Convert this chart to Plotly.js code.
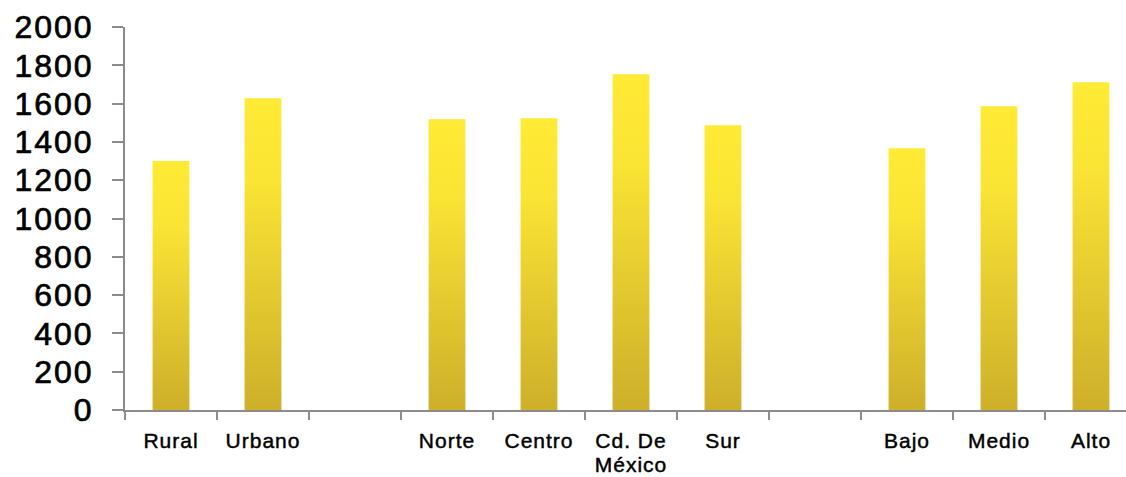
<!DOCTYPE html>
<html>
<head>
<meta charset="utf-8">
<script src="https://cdn.plot.ly/plotly-3.0.1.min.js"></script>
<style>
  html, body { margin: 0; padding: 0; background: #fff; overflow: hidden; }
  #chart { width: 1140px; height: 477px; }
  /* heavier, slightly wider tick lettering */
  #chart .ytick text { stroke: #000; stroke-width: 0.7px; letter-spacing: 2px; }
  #chart .xtick text { stroke: #000; stroke-width: 0.45px; letter-spacing: 1px; }
</style>
</head>
<body>
<div id="chart"></div>
<script>
// Categories along the x axis; the blank entries leave gaps between groups
const categories = ['Rural', 'Urbano', ' ', 'Norte', 'Centro', 'Cd. De<br>México', 'Sur', '  ', 'Bajo', 'Medio', 'Alto'];
const values = [1300, 1628, null, 1518, 1523, 1753, 1487, null, 1367, 1586, 1711];
const yTicks = [0, 200, 400, 600, 800, 1000, 1200, 1400, 1600, 1800, 2000];

const axisGrey = '#8c8c8c';
const fontFamily = 'Arial, "Liberation Sans", sans-serif';

const trace = {
  type: 'bar',
  x: categories,
  y: values,
  width: 0.4,
  marker: { color: '#f2d834', line: { width: 0 } },
  hoverinfo: 'skip'
};

const layout = {
  width: 1140,
  height: 477,
  margin: { l: 125, r: 3, t: 27, b: 67 },
  paper_bgcolor: '#ffffff',
  plot_bgcolor: '#ffffff',
  showlegend: false,
  xaxis: {
    type: 'category',
    tickson: 'boundaries',
    ticks: 'outside',
    ticklen: 8,
    tickwidth: 2,
    tickcolor: axisGrey,
    showline: true,
    linecolor: axisGrey,
    linewidth: 2,
    showgrid: false,
    zeroline: false,
    tickangle: 0,
    ticklabelstandoff: 11,
    tickfont: { family: fontFamily, size: 21, color: '#000' }
  },
  yaxis: {
    range: [0, 2000],
    tickvals: yTicks,
    ticktext: yTicks.map(String),
    ticks: 'outside',
    ticklen: 11,
    tickwidth: 2,
    tickcolor: axisGrey,
    showline: true,
    linecolor: axisGrey,
    linewidth: 2,
    showgrid: false,
    zeroline: false,
    ticklabelstandoff: 12,
    tickfont: { family: fontFamily, size: 32, color: '#000' }
  }
};

Plotly.newPlot('chart', [trace], layout, { staticPlot: true, displayModeBar: false }).then(function (gd) {
  // Vertical gold gradient applied to each bar (bright at the top, darker at the base)
  const svgNS = 'http://www.w3.org/2000/svg';
  const svg = gd.querySelector('svg.main-svg');
  let defs = svg.querySelector('defs');
  if (!defs) { defs = document.createElementNS(svgNS, 'defs'); svg.insertBefore(defs, svg.firstChild); }
  const grad = document.createElementNS(svgNS, 'linearGradient');
  grad.setAttribute('id', 'barGold');
  grad.setAttribute('x1', '0'); grad.setAttribute('y1', '0');
  grad.setAttribute('x2', '0'); grad.setAttribute('y2', '1');
  [['0%', '#ffea35'], ['25%', '#fbe534'], ['60%', '#e6cb30'], ['100%', '#ceaf29']].forEach(function (s) {
    const stop = document.createElementNS(svgNS, 'stop');
    stop.setAttribute('offset', s[0]);
    stop.setAttribute('stop-color', s[1]);
    grad.appendChild(stop);
  });
  defs.appendChild(grad);
  gd.querySelectorAll('.trace.bars .point path').forEach(function (p) {
    p.style.fill = 'url(#barGold)';
  });

  // Tighter line spacing for the two-line category label (second line onward)
  gd.querySelectorAll('.xtick text').forEach(function (txt) {
    const lines = txt.querySelectorAll('tspan.line');
    for (let i = 1; i < lines.length; i++) lines[i].setAttribute('dy', '1.12em');
  });
});
</script>
</body>
</html>
